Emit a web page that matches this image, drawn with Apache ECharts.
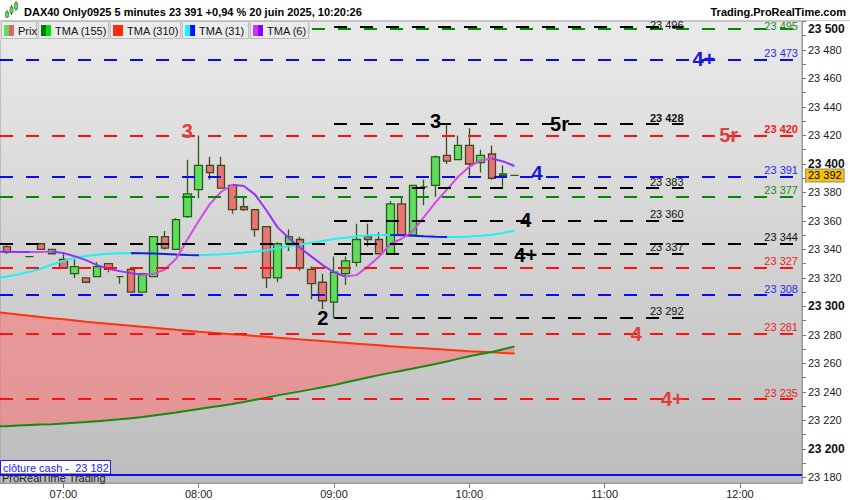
<!DOCTYPE html>
<html>
<head>
<meta charset="utf-8">
<script src="https://cdn.jsdelivr.net/npm/echarts@6.0.0/dist/echarts.min.js"></script>
<style>
html,body{margin:0;padding:0;background:#ffffff;}
#chart{width:850px;height:500px;}
</style>
</head>
<body>
<div id="chart"></div>
<script>
// ---------------- DATA ----------------
const times = ['06:30','06:35','06:40','06:45','06:50','06:55','07:00','07:05','07:10','07:15','07:20','07:25','07:30','07:35','07:40','07:45','07:50','07:55','08:00','08:05','08:10','08:15','08:20','08:25','08:30','08:35','08:40','08:45','08:50','08:55','09:00','09:05','09:10','09:15','09:20','09:25','09:30','09:35','09:40','09:45','09:50','09:55','10:00','10:05','10:10','10:15','10:20'];
const openV  = [null,23342,null,23335,23344,23337,23333,23323,23320,23321,23330,23321,23326,23310,23321,23349,23340,23363,23382,23399,23399,23385,23370,23368,23356,23320,23344,23347,23326,23317,23303,23323,23331,23349,23347,23337,23372,23350,23384,23385,23406,23403,23413,23401,23407,23392,23392];
const closeV = [null,23338,null,23335,23340,23340,23327,23328,23317,23328,23326,23321,23310,23323,23349,23341,23361,23379,23399,23394,23383,23368,23368,23354,23320,23344,23349,23327,23316,23304,23324,23332,23347,23347,23337,23372,23350,23385,23384,23405,23402,23413,23400,23406,23390,23393,23392];
const lowV   = [null,23337,null,23335,23340,23337,23327,23320,23317,23321,23324,23316,23310,23310,23321,23340,23340,23362,23376,23389,23383,23365,23367,23349,23313,23317,23339,23325,23305,23298,23292,23315,23328,23342,23337,23337,23350,23350,23371,23377,23400,23403,23392,23394,23389,23384,23392];
const highV  = [null,23343,null,23335,23344,23340,23337,23333,23320,23331,23330,23321,23326,23323,23349,23353,23362,23403,23420,23405,23405,23385,23377,23368,23356,23345,23354,23349,23328,23323,23335,23335,23358,23358,23352,23374,23377,23385,23389,23406,23428,23420,23425,23410,23413,23399,23392];
const tma155 = [23215.8,23216,23216.4,23216.8,23217.1,23217.4,23217.9,23218.4,23218.9,23219.5,23220.1,23220.8,23221.6,23222.4,23223.4,23224.5,23225.6,23226.8,23228,23229.2,23230.3,23231.6,23233,23234.5,23236,23237.6,23239,23240.4,23241.8,23243.3,23244.8,23246.6,23248.4,23250.2,23251.8,23253.4,23254.9,23256.4,23258,23259.6,23261.4,23263.2,23265,23266.6,23268,23270,23272];
const tma310 = [23296,23295.2,23294.3,23293.4,23292.6,23291.8,23291,23290.2,23289.3,23288.6,23287.9,23287.2,23286.5,23285.7,23285,23284.3,23283.6,23283,23282.3,23281.7,23281.1,23280.5,23279.9,23279.3,23278.7,23278.1,23277.5,23276.9,23276.3,23275.7,23275.1,23274.5,23273.9,23273.3,23272.7,23272.1,23271.6,23271.1,23270.6,23270.1,23269.6,23269.1,23268.6,23268.2,23267.8,23267.4,23267];
const tma31  = [23319.5,23321,23322.5,23324.3,23326.5,23329.5,23332,23334,23335.4,23336.3,23337,23337.4,23337.6,23337.4,23337.1,23336.8,23336.4,23336.1,23336,23336.3,23336.7,23337.2,23337.8,23338.5,23339.5,23340.8,23342.2,23343.5,23344.7,23346,23347.3,23348.3,23349.2,23349.8,23350.1,23350.2,23349.9,23349.6,23349.2,23348.9,23348.7,23348.8,23349.1,23349.6,23350.4,23351.6,23353.2];
const tma6   = [23338.5,23338.4,23338.3,23338.2,23338.3,23338.5,23337.5,23335.3,23332.5,23329,23326.5,23324.8,23323.4,23322.2,23322.8,23326,23333.5,23347,23360,23372,23380.5,23385.5,23384.5,23378.5,23367.5,23355.5,23348,23341,23335,23329,23324,23321,23322,23328,23335,23344,23347.5,23353,23363,23373,23382,23391,23398,23402.5,23403.8,23401.8,23398.6];

const xTickLabels = ['07:00','08:00','09:00','10:00','11:00','12:00'];
const yTickLabels = [23180,23200,23220,23240,23260,23280,23300,23320,23340,23360,23380,23400,23420,23440,23460,23480,23500];
const yMinorTicks = [23180,23190,23200,23210,23220,23230,23240,23250,23260,23270,23280,23290,23300,23310,23320,23330,23340,23350,23360,23370,23380,23390,23400,23410,23420,23430,23440,23450,23460,23470,23480,23490,23500];

const longLevels  = [23495,23473,23420,23391,23377,23344,23327,23308,23281,23235];
const shortLevels = [23496,23428,23383,23360,23337,23292];
const shortLevelFrom = '09:00';
const shortLevelTo   = '11:35';
const cashClose = 23182;

const annoText  = ['3','3','5r','5r','4+','4','4','4+','2','4','4+'];
const annoTime  = ['07:55','09:45','10:40','11:55','11:44','10:30','10:25','10:25','08:55','11:14','11:30'];
const annoPrice = [23423,23430,23428,23420,23474,23394,23361,23336,23292,23281,23235];

const legendNames = ['Prix','TMA (155)','TMA (310)','TMA (31)','TMA (6)'];
const titleText  = 'DAX40 Only0925 5 minutes 23 391 +0,94 % 20 juin 2025, 10:20:26';
const siteText   = 'Trading.ProRealTime.com';
const cashText   = 'clôture cash -  23 182';
const footerText = 'ProRealTime Trading';

// ---------------- STYLE ----------------
const FONT = "'Liberation Sans', Arial, Helvetica, sans-serif";
const GREEN = '#008a00', BLUE = '#0a0aee', RED = '#ff1010', BLACK = '#000000';
const LONG_COLORS  = [GREEN, BLUE, RED, BLUE, GREEN, BLACK, RED, BLUE, RED, RED];
const LONG_LABEL_COLORS = ['#1a8a1a','#2a2aee','#ee1a1a','#2a2aee','#1a8a1a','#111111','#ee2222','#2a2aee','#ee2222','#ee2222'];
const LONG_BOLD = [false,false,true,false,false,false,false,false,false,false];
const LONG_DY   = [-3,1,1,1,1,1,1,1,1,1];
const SHORT_BOLD = [false,true,false,false,false,false];
const SHORT_DY   = [-3,1,1,1,1,1];
const ANNO_COLORS = ['#e23c3c','#000000','#000000','#e23c3c','#1414e6','#1414e6','#000000','#000000','#000000','#e23c3c','#e23c3c'];
const LEGEND_SWATCH = [['#5fdd5f','#e06464'],['#007a00','#00dd00'],['#ff2a0a','#ff2a0a'],['#00ffff','#0010ff'],['#cc33ff','#8a00ff']];
const LEGEND_BOX = [[1,37],[38,109],[110,181],[182,249],[250,309]];
const BAND_FILL = 'rgba(255,112,112,0.55)';

// ---------------- HELPERS ----------------
const tm = s => { const p = s.split(':').map(Number); return p[0] * 60 + p[1]; };
const fmt = v => String(Math.round(v)).replace(/\B(?=(\d{3})+(?!\d))/g, ' ');
const hhmm = v => { const h = Math.floor(v / 60), m = Math.round(v % 60); return (h < 10 ? '0' : '') + h + ':' + (m < 10 ? '0' : '') + m; };
const xs = times.map(tm);
const pairs = arr => arr.map((v, i) => [xs[i], v]);

function trendPieces(arr, up, down) {
  const pieces = [];
  let start = null;
  let dir = arr[1] - arr[0] >= 0 ? 1 : -1;
  for (let i = 1; i < arr.length - 1; i++) {
    const d = arr[i + 1] - arr[i] >= 0 ? 1 : -1;
    if (d !== dir) {
      const p = { lt: xs[i], color: dir > 0 ? up : down };
      if (start !== null) p.gte = start;
      pieces.push(p);
      start = xs[i]; dir = d;
    }
  }
  pieces.push({ gte: start, color: dir > 0 ? up : down });
  return pieces;
}

const candleData = [];
times.forEach((t, i) => {
  if (openV[i] != null) candleData.push([xs[i], openV[i], closeV[i], lowV[i], highV[i]]);
});
const lastClose = closeV[closeV.length - 1];

// mark lines
const dash = [13, 13];
const levelMarks = [];
longLevels.forEach((v, i) => {
  levelMarks.push({
    yAxis: v,
    lineStyle: { color: LONG_COLORS[i], width: 2, type: dash },
    label: { show: true, position: 'insideEndTop', distance: [4, LONG_DY[i]], formatter: fmt(v),
      color: LONG_LABEL_COLORS[i], fontSize: 11, fontWeight: LONG_BOLD[i] ? 'bold' : 'normal', fontFamily: FONT }
  });
});
shortLevels.forEach((v, i) => {
  levelMarks.push([
    { coord: [tm(shortLevelFrom), v],
      lineStyle: { color: BLACK, width: 2, type: dash },
      label: { show: true, position: 'insideEndTop', distance: [0, SHORT_DY[i]], formatter: fmt(v),
        color: '#111', fontSize: 11, fontWeight: SHORT_BOLD[i] ? 'bold' : 'normal', fontFamily: FONT } },
    { coord: [tm(shortLevelTo), v] }
  ]);
});
levelMarks.push({ yAxis: cashClose, lineStyle: { color: '#1010ee', width: 2, type: 'solid' }, label: { show: false } });

// current price marker on the price axis
const priceMark = [{
  yAxis: lastClose, lineStyle: { color: 'rgba(0,0,0,0)', width: 1, type: 'solid' },
  label: { show: true, position: 'end', distance: 4, formatter: fmt(lastClose), color: '#000', fontSize: 11,
    fontFamily: FONT, backgroundColor: '#f7c300', borderColor: '#8a8a8a', borderWidth: 1, padding: [1, 2, 0, 2] }
}];

// graphics (header, legend row, footer)
const graphics = [
  { type: 'rect', shape: { x: 0, y: 0, width: 850, height: 21 }, style: { fill: '#ffffff' }, z: 100 },
  { type: 'line', shape: { x1: 0, y1: 20.5, x2: 850, y2: 20.5 }, style: { stroke: '#c8c8c8', lineWidth: 1 }, z: 101 },
  { type: 'line', shape: { x1: 7, y1: 10, x2: 7, y2: 18 }, style: { stroke: '#2a6a1a', lineWidth: 1 }, z: 101 },
  { type: 'rect', shape: { x: 5.5, y: 12, width: 3, height: 5 }, style: { fill: '#5fdd5f', stroke: '#2a6a1a', lineWidth: 0.6 }, z: 102 },
  { type: 'line', shape: { x1: 11.5, y1: 5, x2: 11.5, y2: 15 }, style: { stroke: '#2a6a1a', lineWidth: 1 }, z: 101 },
  { type: 'rect', shape: { x: 10, y: 7, width: 3, height: 6 }, style: { fill: '#5fdd5f', stroke: '#2a6a1a', lineWidth: 0.6 }, z: 102 },
  { type: 'line', shape: { x1: 16, y1: 1, x2: 16, y2: 11 }, style: { stroke: '#2a6a1a', lineWidth: 1 }, z: 101 },
  { type: 'rect', shape: { x: 14.5, y: 3, width: 3, height: 6 }, style: { fill: '#5fdd5f', stroke: '#2a6a1a', lineWidth: 0.6 }, z: 102 },
  { type: 'text', x: 24, y: 12, z: 102, style: { text: titleText, font: 'bold 11px ' + FONT, fill: '#000', align: 'left', verticalAlign: 'middle' } },
  { type: 'text', x: 846, y: 12, z: 102, style: { text: siteText, font: 'bold 11px ' + FONT, fill: '#000', align: 'right', verticalAlign: 'middle' } },
  { type: 'rect', shape: { x: 0, y: 21, width: 310, height: 18 }, style: { fill: '#dcdcdc' }, z: 100 }
];
legendNames.forEach((name, i) => {
  const [x0, x1] = LEGEND_BOX[i];
  graphics.push({ type: 'rect', shape: { x: x0 + 0.5, y: 21.5, width: x1 - x0 - 1, height: 17 }, style: { fill: '#ebebeb', stroke: '#bdbdbd', lineWidth: 1 }, z: 101 });
  graphics.push({ type: 'rect', shape: { x: x0 + 3, y: 25, width: 5, height: 11 }, style: { fill: LEGEND_SWATCH[i][0] }, z: 102 });
  graphics.push({ type: 'rect', shape: { x: x0 + 8, y: 25, width: 5, height: 11 }, style: { fill: LEGEND_SWATCH[i][1] }, z: 102 });
  graphics.push({ type: 'text', x: x0 + 17, y: 30.5, z: 102, style: { text: name, font: '11px ' + FONT, fill: '#111', align: 'left', verticalAlign: 'middle' } });
});
graphics.push({ type: 'rect', shape: { x: 0.5, y: 460.5, width: 110, height: 13.5 }, style: { fill: '#ffffff', stroke: '#1a1aee', lineWidth: 1 }, z: 101 });
graphics.push({ type: 'text', x: 3, y: 467.5, z: 102, style: { text: cashText, font: '11px ' + FONT, fill: '#2222ee', align: 'left', verticalAlign: 'middle' } });
graphics.push({ type: 'text', x: 2, y: 478, z: 102, style: { text: footerText, font: '11px ' + FONT, fill: '#222', align: 'left', verticalAlign: 'middle' } });

// band between TMA155 and TMA310, drawn through the axes' scales
function renderBand(params, api) {
  if (params.dataIndex !== 0) return null;
  const pts = [];
  for (let i = 0; i < xs.length; i++) pts.push(api.coord([xs[i], tma310[i]]));
  for (let i = xs.length - 1; i >= 0; i--) pts.push(api.coord([xs[i], tma155[i]]));
  const cs = params.coordSys;
  return {
    type: 'group',
    clipPath: { type: 'rect', shape: { x: cs.x, y: cs.y, width: cs.width, height: cs.height } },
    children: [{ type: 'polygon', shape: { points: pts }, style: { fill: BAND_FILL, stroke: 'none' } }]
  };
}

const chart = echarts.init(document.getElementById('chart'), null, { renderer: 'svg' });
const option = {
  animation: false,
  backgroundColor: '#ffffff',
  textStyle: { fontFamily: FONT },
  grid: {
    left: 0, right: 48, top: 21, bottom: 17, show: true, borderColor: '#9a9a9a', borderWidth: 1,
    backgroundColor: { type: 'linear', x: 0, y: 0, x2: 0, y2: 1,
      colorStops: [{ offset: 0, color: '#eaeaea' }, { offset: 1, color: '#bcbcbc' }] }
  },
  xAxis: {
    type: 'value', min: 391.9, max: 747.5,
    axisLine: { show: true, lineStyle: { color: '#9a9a9a' } },
    axisTick: { show: true, customValues: xTickLabels.map(tm), length: 5, lineStyle: { color: '#777' } },
    axisLabel: { customValues: xTickLabels.map(tm), formatter: v => hhmm(v), color: '#222', fontSize: 11, margin: 5 },
    splitLine: { show: false }
  },
  yAxis: {
    type: 'value', position: 'right', min: 23176.1, max: 23500.35, scale: true,
    axisLine: { show: true, lineStyle: { color: '#9a9a9a' } },
    axisTick: { show: true, customValues: yMinorTicks, length: 4, lineStyle: { color: '#777' } },
    axisLabel: {
      customValues: yTickLabels, margin: 6,
      formatter: v => v === 23500 ? '{t|' + fmt(v) + '}' : (v % 100 === 0 ? '{b|' + fmt(v) + '}' : '{n|' + fmt(v) + '}'),
      rich: {
        n: { fontSize: 11, color: '#222', fontFamily: FONT },
        b: { fontSize: 12, color: '#111', fontWeight: 'bold', fontFamily: FONT },
        t: { fontSize: 12, color: '#111', fontWeight: 'bold', fontFamily: FONT, padding: [15, 0, 0, 0] }
      }
    },
    splitLine: { show: false }
  },
  visualMap: [
    { type: 'piecewise', show: false, dimension: 0, seriesIndex: 5, pieces: trendPieces(tma31, '#1ff0f0', '#1020e0') },
    { type: 'piecewise', show: false, dimension: 0, seriesIndex: 6, pieces: trendPieces(tma6, '#d447ea', '#9632f5') }
  ],
  graphic: graphics,
  series: [
    { type: 'custom', name: 'band', renderItem: renderBand, data: [[xs[1], tma310[1]]], z: 1, silent: true },
    { type: 'line', name: 'levels', data: [], z: 2, silent: true,
      markLine: { symbol: 'none', silent: true, animation: false, data: levelMarks } },
    { type: 'candlestick', name: 'Prix', data: candleData, encode: { x: 0, y: [1, 2, 3, 4] }, barWidth: 8, z: 3,
      itemStyle: { color: '#5fdd5f', color0: '#ea7474', borderColor: '#2b5a1b', borderColor0: '#3e4a1e', borderColorDoji: '#2b5a1b', borderWidth: 1.3 },
      markLine: { symbol: 'none', silent: true, animation: false, data: priceMark } },
    { type: 'line', name: 'TMA (310)', data: pairs(tma310), symbol: 'none', lineStyle: { color: '#ff3311', width: 2 }, z: 4 },
    { type: 'line', name: 'TMA (155)', data: pairs(tma155), symbol: 'none', lineStyle: { color: '#138a13', width: 2 }, z: 4 },
    { type: 'line', name: 'TMA (31)', data: pairs(tma31), symbol: 'none', lineStyle: { width: 2 }, z: 4 },
    { type: 'line', name: 'TMA (6)', data: pairs(tma6), symbol: 'none', lineStyle: { width: 2 }, z: 4 },
    { type: 'scatter', name: 'anno', symbolSize: 1, itemStyle: { color: 'rgba(0,0,0,0)', opacity: 1 }, z: 6, silent: true,
      data: annoText.map((s, i) => ({ value: [tm(annoTime[i]), annoPrice[i]], name: s, label: { color: ANNO_COLORS[i] } })),
      label: { show: true, position: 'inside', formatter: '{b}', fontSize: 20, fontWeight: 'bold', fontFamily: FONT, opacity: 1, textBorderWidth: 0 } }
  ]
};
chart.setOption(option);
</script>
</body>
</html>
